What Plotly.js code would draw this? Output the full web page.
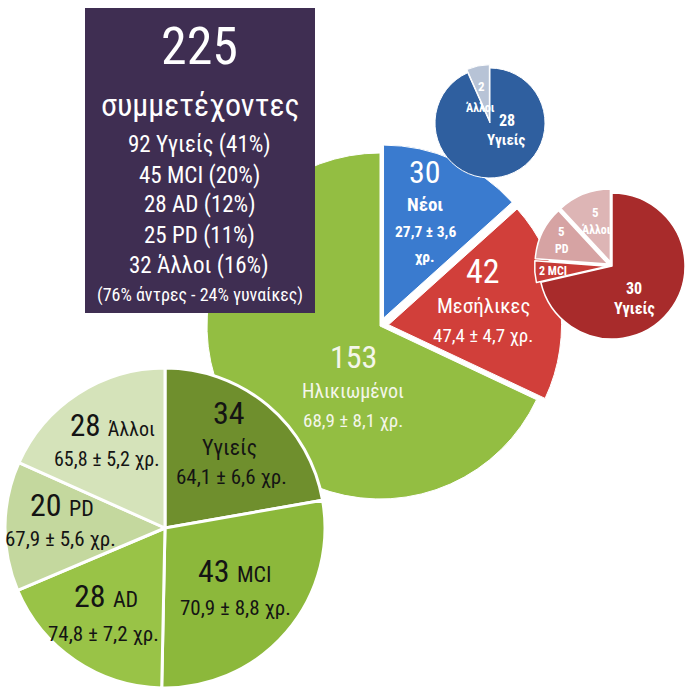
<!DOCTYPE html>
<html>
<head>
<meta charset="utf-8">
<script src="https://cdn.plot.ly/plotly-3.0.1.min.js"></script>
<style>html,body{margin:0;padding:0;background:#fff;}#chart{width:692px;height:692px;}</style>
</head>
<body>
<div id="chart"></div>
<script>
// ---------- DATA ----------
const totalParticipants = 225;
const summaryTitle = 'συμμετέχοντες';
const summaryGroups = ['Υγιείς', 'MCI', 'AD', 'PD', 'Άλλοι'];
const summaryCounts = [92, 45, 28, 25, 32];
const summaryPercents = [41, 20, 12, 11, 16];
const summaryGender = '(76% άντρες - 24% γυναίκες)';

const ageGroups = ['Νέοι', 'Μεσήλικες', 'Ηλικιωμένοι'];
const ageGroupCounts = [30, 42, 153];
const ageGroupAges = ['27,7 ± 3,6', '47,4 ± 4,7', '68,9 ± 8,1'];

const youngLabels = ['Υγιείς', 'Άλλοι'];
const youngCounts = [28, 2];

const middleLabels = ['Υγιείς', 'MCI', 'PD', 'Άλλοι'];
const middleCounts = [30, 2, 5, 5];

const elderlyLabels = ['Υγιείς', 'MCI', 'AD', 'PD', 'Άλλοι'];
const elderlyCounts = [34, 43, 28, 20, 28];
const elderlyAges = ['64,1 ± 6,6', '70,9 ± 8,8', '74,8 ± 7,2', '67,9 ± 5,6', '65,8 ± 5,2'];
const yearsUnit = 'χρ.';

// ---------- STYLE / LAYOUT ----------
const W = 692;
const FONT = '"Roboto Condensed", "Liberation Sans Narrow", "DejaVu Sans Condensed", Roboto, sans-serif';
const px = v => v / W;
const py = v => 1 - v / W;
function dom(cx, cy, half) {
  return { x: [px(cx - half), px(cx + half)], y: [py(cy + half), py(cy - half)] };
}
function ann(text, x, y, size, color) {
  return { text: text, x: px(x), y: py(y), xref: 'paper', yref: 'paper', showarrow: false,
           xanchor: 'center', yanchor: 'middle', font: { family: FONT, size: size, color: color } };
}
const base = { type: 'pie', sort: false, direction: 'clockwise', rotation: 0, textinfo: 'none',
               hoverinfo: 'skip', showlegend: false };

const traces = [
  Object.assign({}, base, {
    labels: ageGroups, values: ageGroupCounts,
    pull: [0.05, 0.05, 0],
    marker: { colors: ['#3A7BCF', '#D13F3A', '#93BE42'], line: { color: '#ffffff', width: 1 } },
    domain: dom(380, 326, 173 * 1.05)
  }),
  Object.assign({}, base, {
    labels: youngLabels, values: youngCounts,
    pull: [0, 0.06],
    marker: { colors: ['#2F5F9F', '#B7C3D6'], line: { color: '#ffffff', width: 1 } },
    domain: dom(490, 123, 55 * 1.06)
  }),
  Object.assign({}, base, {
    labels: middleLabels, values: middleCounts,
    pull: [0, 0.06, 0.06, 0.06],
    marker: { colors: ['#A82B2B', '#C63B37', '#D6A3A3', '#DDB5B5'], line: { color: '#ffffff', width: 1.5 } },
    domain: dom(612, 266, 73 * 1.06)
  }),
  Object.assign({}, base, {
    labels: elderlyLabels, values: elderlyCounts,
    pull: [0, 0, 0, 0, 0],
    marker: { colors: ['#6F8F2D', '#8CB83B', '#99C347', '#C4D89E', '#D5E3BA'], line: { color: '#ffffff', width: 3 } },
    domain: dom(165, 528, 160)
  })
];

const annotations = [];
// summary box text
annotations.push(ann(String(totalParticipants), 199, 46, 52, '#ffffff'));
annotations.push(ann(summaryTitle, 200, 105, 32, '#ffffff'));
const sumY = [145, 175, 205, 235, 265];
summaryGroups.forEach((g, i) => {
  annotations.push(ann(summaryCounts[i] + ' ' + g + ' (' + summaryPercents[i] + '%)', 199, sumY[i], 23, '#ffffff'));
});
annotations.push(ann(summaryGender, 200, 295, 18, '#ffffff'));

// main pie labels
const W1 = '#ffffff';
annotations.push(ann(String(ageGroupCounts[0]), 425, 172, 32, W1));
annotations.push(ann('<b>' + ageGroups[0] + '</b>', 425, 205, 19, W1));
annotations.push(ann('<b>' + ageGroupAges[0] + '</b>', 425, 232, 15.5, W1));
annotations.push(ann('<b>' + yearsUnit + '</b>', 425, 257, 15.5, W1));

annotations.push(ann(String(ageGroupCounts[1]), 483, 271, 34, W1));
annotations.push(ann(ageGroups[1], 483, 306, 21, W1));
annotations.push(ann(ageGroupAges[1] + ' ' + yearsUnit, 483, 335, 19, W1));

annotations.push(ann(String(ageGroupCounts[2]), 353, 357, 32, '#F4F6EA'));
annotations.push(ann(ageGroups[2], 353, 391, 20, '#F4F6EA'));
annotations.push(ann(ageGroupAges[2] + ' ' + yearsUnit, 353, 420, 19, '#F4F6EA'));

// young pie labels
annotations.push(ann('<b>' + youngCounts[1] + '</b>', 481, 87, 13, W1));
annotations.push(ann('<b>' + youngLabels[1] + '</b>', 480, 108, 12, W1));
annotations.push(ann('<b>' + youngCounts[0] + '</b>', 507, 120, 16, W1));
annotations.push(ann('<b>' + youngLabels[0] + '</b>', 507, 140, 15, W1));

// middle pie labels
annotations.push(ann('<b>' + middleCounts[3] + '</b>', 595, 212, 13, W1));
annotations.push(ann('<b>' + middleLabels[3] + '</b>', 596, 230, 12, W1));
annotations.push(ann('<b>' + middleCounts[2] + '</b>', 561, 232, 13, W1));
annotations.push(ann('<b>' + middleLabels[2] + '</b>', 562, 249, 12, W1));
annotations.push(ann('<b>' + middleCounts[1] + ' ' + middleLabels[1] + '</b>', 553, 271, 12, W1));
annotations.push(ann('<b>' + middleCounts[0] + '</b>', 634, 288, 16, W1));
annotations.push(ann('<b>' + middleLabels[0] + '</b>', 634, 308, 16, W1));

// elderly pie labels
const D = '#141414';
annotations.push(ann(String(elderlyCounts[0]), 229, 413, 32, D));
annotations.push(ann(elderlyLabels[0], 229, 447, 22, D));
annotations.push(ann(elderlyAges[0] + ' ' + yearsUnit, 231, 477, 21, D));

annotations.push(ann(elderlyCounts[1] + ' <span style="font-size:22px">' + elderlyLabels[1] + '</span>', 235, 571, 32, D));
annotations.push(ann(elderlyAges[1] + ' ' + yearsUnit, 235, 608, 21, D));

annotations.push(ann(elderlyCounts[2] + ' <span style="font-size:22px">' + elderlyLabels[2] + '</span>', 106, 596, 32, D));
annotations.push(ann(elderlyAges[2] + ' ' + yearsUnit, 103, 634, 21, D));

annotations.push(ann(elderlyCounts[3] + ' <span style="font-size:22px">' + elderlyLabels[3] + '</span>', 62, 505, 32, D));
annotations.push(ann(elderlyAges[3] + ' ' + yearsUnit, 60, 539, 21, D));

annotations.push(ann(elderlyCounts[4] + ' <span style="font-size:20px">' + elderlyLabels[4] + '</span>', 112, 425, 31, D));
annotations.push(ann(elderlyAges[4] + ' ' + yearsUnit, 107, 459, 20, D));

const layout = {
  width: W, height: W,
  margin: { l: 0, r: 0, t: 0, b: 0, pad: 0 },
  paper_bgcolor: '#ffffff', plot_bgcolor: '#ffffff',
  showlegend: false,
  font: { family: FONT },
  shapes: [{
    type: 'rect', xref: 'paper', yref: 'paper', layer: 'above',
    x0: px(85), x1: px(315), y0: py(313), y1: py(8),
    fillcolor: '#3F2E52', line: { width: 0 }
  }],
  annotations: annotations
};

Plotly.newPlot('chart', traces, layout, { displayModeBar: false, staticPlot: true });
</script>
</body>
</html>
